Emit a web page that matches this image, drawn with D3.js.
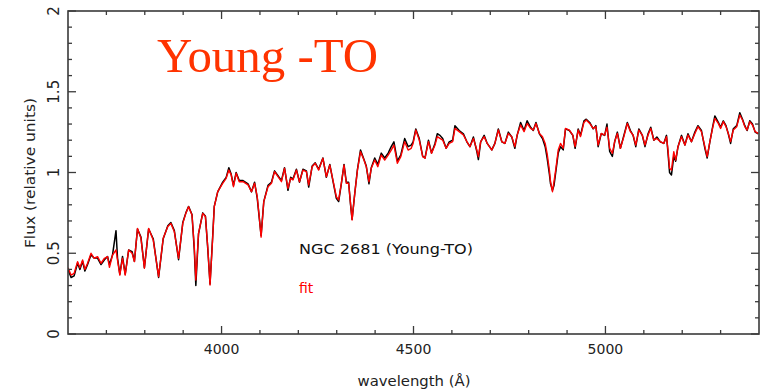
<!DOCTYPE html>
<html><head><meta charset="utf-8">
<script src="https://cdn.jsdelivr.net/npm/d3@7"></script>
<style>html,body{margin:0;padding:0;background:#fff;}svg{display:block;}</style>
</head><body>
<div id="chart"></div>
<script>
// ---- data ----
const wavelength = [3600,3608,3616,3625,3631,3638,3644,3651,3660,3668,3677,3686,3695,3703,3708,3716,3725,3729,3735,3742,3749,3758,3767,3773,3781,3790,3799,3810,3822,3836,3848,3860,3868,3877,3888,3899,3907,3914,3923,3929,3933,3940,3951,3958,3964,3970,3977,3981,3990,4003,4012,4019,4025,4031,4038,4046,4056,4069,4078,4086,4093,4099,4103,4110,4121,4130,4138,4147,4156,4164,4173,4180,4186,4195,4203,4212,4221,4227,4236,4244,4253,4264,4273,4282,4290,4299,4305,4312,4319,4325,4331,4336,4340,4347,4354,4362,4371,4377,4384,4390,4399,4407,4416,4425,4434,4442,4449,4458,4467,4477,4486,4494,4499,4506,4515,4524,4530,4539,4547,4556,4562,4569,4576,4585,4593,4602,4608,4619,4630,4639,4647,4656,4665,4669,4675,4684,4692,4704,4712,4721,4730,4738,4747,4756,4764,4770,4779,4788,4796,4805,4812,4819,4828,4836,4843,4848,4854,4857,4862,4866,4871,4877,4883,4890,4896,4906,4915,4921,4929,4935,4944,4950,4959,4968,4975,4981,4989,4998,5004,5011,5018,5024,5031,5039,5048,5057,5065,5072,5079,5087,5096,5103,5111,5118,5126,5134,5143,5152,5159,5163,5167,5172,5178,5183,5189,5198,5207,5215,5224,5233,5241,5250,5259,5265,5272,5279,5285,5294,5300,5307,5314,5320,5326,5333,5342,5350,5357,5363,5369,5376,5383,5390,5398];
const fitFlux = [0.41,0.365,0.376,0.448,0.41,0.458,0.40,0.438,0.50,0.469,0.479,0.438,0.469,0.479,0.413,0.489,0.52,0.458,0.365,0.47,0.365,0.52,0.50,0.448,0.654,0.593,0.407,0.654,0.582,0.355,0.593,0.665,0.685,0.633,0.469,0.685,0.747,0.788,0.737,0.54,0.334,0.623,0.747,0.726,0.54,0.303,0.60,0.788,0.881,0.933,0.964,1.015,0.985,0.912,0.995,0.943,0.943,0.923,0.881,0.933,0.85,0.706,0.60,0.82,0.912,0.933,1.005,0.974,0.943,1.026,0.902,0.964,0.954,1.015,0.943,1.015,1.005,0.923,1.036,1.057,1.015,1.088,0.974,1.046,0.954,0.85,0.83,0.933,1.046,0.933,0.933,0.809,0.706,0.871,1.015,1.129,1.077,1.036,0.943,1.026,1.077,1.036,1.108,1.077,1.108,1.139,1.17,1.057,1.098,1.191,1.139,1.15,1.18,1.263,1.201,1.098,1.088,1.191,1.119,1.17,1.222,1.211,1.201,1.15,1.18,1.191,1.273,1.253,1.232,1.191,1.16,1.211,1.139,1.098,1.191,1.222,1.18,1.139,1.18,1.263,1.191,1.18,1.242,1.222,1.16,1.232,1.294,1.253,1.304,1.273,1.263,1.304,1.242,1.222,1.18,1.119,1.015,0.943,0.881,0.943,1.026,1.139,1.18,1.15,1.273,1.263,1.232,1.16,1.263,1.222,1.31,1.325,1.304,1.273,1.284,1.17,1.242,1.232,1.28,1.15,1.119,1.191,1.242,1.15,1.222,1.304,1.253,1.232,1.17,1.263,1.232,1.17,1.232,1.273,1.201,1.211,1.191,1.18,1.222,1.139,1.026,1.015,1.129,1.077,1.16,1.222,1.17,1.232,1.191,1.242,1.284,1.253,1.16,1.098,1.191,1.273,1.335,1.304,1.273,1.315,1.284,1.242,1.191,1.263,1.284,1.356,1.325,1.284,1.263,1.315,1.294,1.253,1.242];
const obsFlux = [0.40,0.35,0.36,0.44,0.40,0.45,0.39,0.43,0.49,0.47,0.47,0.43,0.46,0.48,0.43,0.49,0.64,0.47,0.37,0.48,0.37,0.52,0.51,0.45,0.65,0.60,0.41,0.65,0.59,0.35,0.59,0.67,0.69,0.64,0.46,0.69,0.75,0.79,0.74,0.52,0.30,0.62,0.75,0.73,0.53,0.31,0.61,0.79,0.88,0.94,0.97,1.03,0.99,0.92,1.00,0.95,0.95,0.93,0.88,0.94,0.84,0.70,0.61,0.82,0.92,0.94,1.01,0.98,0.95,1.03,0.89,0.97,0.96,1.02,0.94,1.02,1.01,0.91,1.04,1.06,1.02,1.09,0.97,1.05,0.95,0.84,0.82,0.93,1.05,0.94,0.94,0.80,0.71,0.87,1.02,1.14,1.08,1.04,0.93,1.03,1.09,1.05,1.12,1.09,1.12,1.16,1.19,1.07,1.11,1.21,1.16,1.17,1.19,1.27,1.21,1.10,1.09,1.20,1.12,1.18,1.24,1.23,1.21,1.15,1.19,1.20,1.29,1.26,1.24,1.19,1.16,1.22,1.13,1.08,1.19,1.23,1.18,1.14,1.18,1.27,1.19,1.18,1.25,1.22,1.15,1.23,1.31,1.26,1.32,1.28,1.26,1.31,1.24,1.21,1.16,1.09,0.99,0.93,0.89,0.92,1.01,1.12,1.16,1.14,1.27,1.26,1.23,1.15,1.27,1.23,1.32,1.33,1.31,1.27,1.29,1.16,1.24,1.23,1.30,1.13,1.10,1.19,1.25,1.15,1.23,1.31,1.26,1.23,1.16,1.27,1.23,1.16,1.24,1.28,1.20,1.22,1.19,1.18,1.23,1.12,1.00,0.985,1.10,1.07,1.16,1.23,1.17,1.24,1.19,1.25,1.29,1.26,1.15,1.09,1.19,1.28,1.35,1.31,1.28,1.32,1.29,1.24,1.18,1.27,1.29,1.37,1.33,1.29,1.26,1.32,1.30,1.25,1.24];
const xMajorTicks = [4000, 4500, 5000];
const xMinorTicks = [3700,3800,3900,4100,4200,4300,4400,4600,4700,4800,4900,5100,5200,5300];
const yMajorTicks = [0, 0.5, 1, 1.5, 2];
const yMinorTicks = [0.1,0.2,0.3,0.4,0.6,0.7,0.8,0.9,1.1,1.2,1.3,1.4,1.6,1.7,1.8,1.9];
const xTickLabels = ["4000", "4500", "5000"];
const yTickLabels = ["0", "0.5", "1", "1.5", "2"];

// ---- chart ----
(function () {
const W = 762, H = 390;
const pL = 68, pR = 759, pT = 11, pB = 334;
const svg = d3.select("#chart").append("svg").attr("width", W).attr("height", H);
const x = d3.scaleLinear().domain([3600, 5400]).range([pL, pR]);
const y = d3.scaleLinear().domain([0, 2]).range([pB, pT]);

svg.append("clipPath").attr("id", "clip").append("rect")
  .attr("x", pL).attr("y", pT).attr("width", pR - pL).attr("height", pB - pT);

const obs = wavelength.map((w, i) => [w, obsFlux[i]]);
const fit = wavelength.map((w, i) => [w, fitFlux[i]]);
const line = d3.line().x(d => x(d[0])).y(d => y(d[1]));
const g = svg.append("g").attr("clip-path", "url(#clip)");
g.append("path").datum(obs).attr("d", line).attr("fill", "none").attr("stroke", "#000").attr("stroke-width", 1.5).attr("stroke-linejoin", "round");
g.append("path").datum(fit).attr("d", line).attr("fill", "none").attr("stroke", "#ff0000").attr("stroke-width", 1.4).attr("stroke-linejoin", "round");

const axisColor = "#3a3a3a";
svg.append("rect").attr("x", pL).attr("y", pT).attr("width", pR - pL).attr("height", pB - pT)
  .attr("fill", "none").attr("stroke", axisColor).attr("stroke-width", 1.6);

function xTicks(vals, len) {
  svg.selectAll(null).data(vals).enter().append("line")
    .attr("x1", d => x(d)).attr("x2", d => x(d)).attr("y1", pB).attr("y2", pB - len)
    .attr("stroke", axisColor).attr("stroke-width", 1.3);
  svg.selectAll(null).data(vals).enter().append("line")
    .attr("x1", d => x(d)).attr("x2", d => x(d)).attr("y1", pT).attr("y2", pT + len)
    .attr("stroke", axisColor).attr("stroke-width", 1.3);
}
function yTicks(vals, len) {
  svg.selectAll(null).data(vals).enter().append("line")
    .attr("x1", pL).attr("x2", pL + len).attr("y1", d => y(d)).attr("y2", d => y(d))
    .attr("stroke", axisColor).attr("stroke-width", 1.3);
  svg.selectAll(null).data(vals).enter().append("line")
    .attr("x1", pR).attr("x2", pR - len).attr("y1", d => y(d)).attr("y2", d => y(d))
    .attr("stroke", axisColor).attr("stroke-width", 1.3);
}
xTicks(xMinorTicks, 4); xTicks(xMajorTicks, 8);
yTicks(yMinorTicks, 4); yTicks(yMajorTicks, 8);

const font = "'DejaVu Sans', sans-serif";
svg.selectAll(null).data(xMajorTicks).enter().append("text")
  .attr("x", d => x(d)).attr("y", 354).attr("text-anchor", "middle")
  .attr("font-family", font).attr("font-size", 14).attr("fill", "#222")
  .text((d, i) => xTickLabels[i]);
svg.selectAll(null).data(yMajorTicks).enter().append("text")
  .attr("transform", d => `translate(59,${y(d)}) rotate(-90)`).attr("text-anchor", "middle")
  .attr("font-family", font).attr("font-size", 15).attr("fill", "#222")
  .text((d, i) => yTickLabels[i]);

svg.append("text").attr("transform", `translate(35,173) rotate(-90)`).attr("text-anchor", "middle")
  .attr("font-family", font).attr("font-size", 14).attr("fill", "#222")
  .attr("textLength", 150).attr("lengthAdjust", "spacingAndGlyphs")
  .text("Flux (relative units)");
svg.append("text").attr("x", 414).attr("y", 386).attr("text-anchor", "middle")
  .attr("font-family", font).attr("font-size", 14).attr("fill", "#222")
  .attr("textLength", 113).attr("lengthAdjust", "spacingAndGlyphs")
  .text("wavelength (Å)");

svg.append("text").attr("x", 299).attr("y", 254)
  .attr("font-family", font).attr("font-size", 14).attr("fill", "#111")
  .attr("textLength", 174).attr("lengthAdjust", "spacingAndGlyphs")
  .text("NGC 2681 (Young-TO)");
svg.append("text").attr("x", 299).attr("y", 293)
  .attr("font-family", font).attr("font-size", 14).attr("fill", "#ff0000")
  .text("fit");

svg.append("text").attr("x", 157).attr("y", 72)
  .attr("font-family", "'Liberation Serif', 'Times New Roman', serif").attr("font-size", 48)
  .attr("fill", "#ff3300").attr("textLength", 221).attr("lengthAdjust", "spacingAndGlyphs")
  .text("Young -TO");
})();
</script>
</body></html>
